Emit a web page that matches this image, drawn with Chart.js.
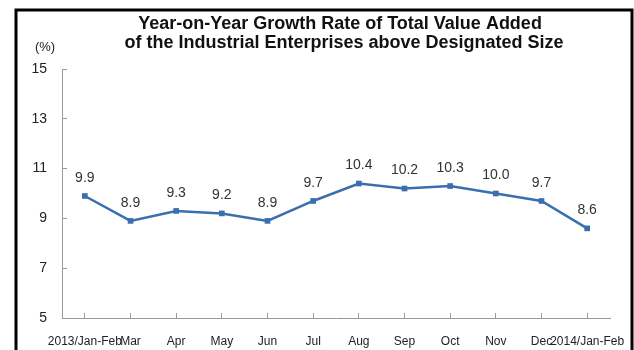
<!DOCTYPE html>
<html>
<head>
<meta charset="utf-8">
<script src="https://cdn.jsdelivr.net/npm/chart.js@4/dist/chart.umd.min.js"></script>
<style>
    html, body { margin: 0; padding: 0; background: #fff; }
    #wrap { width: 634px; height: 350px; position: relative; }
</style>
</head>
<body>
<div id="wrap"><canvas id="myChart" width="634" height="350"></canvas></div>
<script>
// chart data
var months = ['2013/Jan-Feb', 'Mar', 'Apr', 'May', 'Jun', 'Jul', 'Aug', 'Sep', 'Oct', 'Nov', 'Dec', '2014/Jan-Feb'];
var growth = [9.9, 8.9, 9.3, 9.2, 8.9, 9.7, 10.4, 10.2, 10.3, 10.0, 9.7, 8.6];
var yTicks = [5, 7, 9, 11, 13, 15];
var titleLines = ['Year-on-Year Growth Rate of Total Value Added', 'of the Industrial Enterprises above Designated Size'];
var unitLabel = '(%)';

var lineColor = '#3a6fae';
var axisColor = '#9a9a9a';
var fontFamily = '"Liberation Sans", Arial, sans-serif';

// frame, title and unit text
var framePlugin = {
    id: 'frame',
    afterDraw: function(chart) {
        var ctx = chart.ctx;
        ctx.save();
        ctx.strokeStyle = '#000';
        ctx.lineWidth = 3;
        ctx.beginPath();
        ctx.moveTo(16, 352);
        ctx.lineTo(16, 10);
        ctx.lineTo(632, 10);
        ctx.lineTo(632, 352);
        ctx.stroke();

        ctx.textAlign = 'center';
        ctx.textBaseline = 'middle';
        ctx.fillStyle = '#111';
        ctx.font = 'bold 18px ' + fontFamily;
        ctx.fillText(titleLines[0], 340, 24);
        ctx.fillText(titleLines[1], 344, 43);

        ctx.fillStyle = '#222';
        ctx.font = '13px ' + fontFamily;
        ctx.fillText(unitLabel, 45, 47);
        ctx.restore();
    }
};

// value labels above each point
var valueLabels = {
    id: 'valueLabels',
    afterDatasetsDraw: function(chart) {
        var ctx = chart.ctx;
        var meta = chart.getDatasetMeta(0);
        ctx.save();
        ctx.fillStyle = '#333';
        ctx.font = '14px ' + fontFamily;
        ctx.textAlign = 'center';
        ctx.textBaseline = 'middle';
        meta.data.forEach(function(pt, i) {
            ctx.fillText(growth[i].toFixed(1), pt.x, pt.y - 18);
        });
        ctx.restore();
    }
};

var ctx = document.getElementById('myChart').getContext('2d');
var myChart = new Chart(ctx, {
    type: 'line',
    data: {
        labels: months,
        datasets: [{
            data: growth,
            borderColor: lineColor,
            backgroundColor: lineColor,
            borderWidth: 2.5,
            pointStyle: 'rect',
            pointRadius: 4,
            pointBorderWidth: 0,
            tension: 0
        }]
    },
    options: {
        responsive: false,
        animation: false,
        layout: { padding: { left: 0, right: 24, top: 69, bottom: 0 } },
        plugins: {
            legend: { display: false },
            tooltip: { enabled: false },
            title: { display: false }
        },
        scales: {
            x: {
                offset: true,
                border: { color: axisColor, width: 1 },
                grid: { drawOnChartArea: false, drawTicks: true, tickLength: -5, color: axisColor },
                ticks: {
                    autoSkip: false,
                    maxRotation: 0,
                    padding: 21,
                    color: '#222',
                    font: { family: fontFamily, size: 12 }
                },
                afterFit: function(scale) {
                    scale.height = 32;
                    // labels may run past the ends, keep the plot width fixed
                    scale.paddingLeft = 0;
                    scale.paddingRight = 0;
                }
            },
            y: {
                min: 5,
                max: 15,
                border: { color: axisColor, width: 1 },
                grid: { drawOnChartArea: false, drawTicks: true, tickLength: -5, color: axisColor },
                afterBuildTicks: function(scale) {
                    scale.ticks = yTicks.map(function(v) { return { value: v }; });
                },
                ticks: {
                    padding: 20,
                    color: '#222',
                    font: { family: fontFamily, size: 14 }
                },
                afterFit: function(scale) { scale.width = 62; }
            }
        }
    },
    plugins: [framePlugin, valueLabels]
});
</script>
</body>
</html>
